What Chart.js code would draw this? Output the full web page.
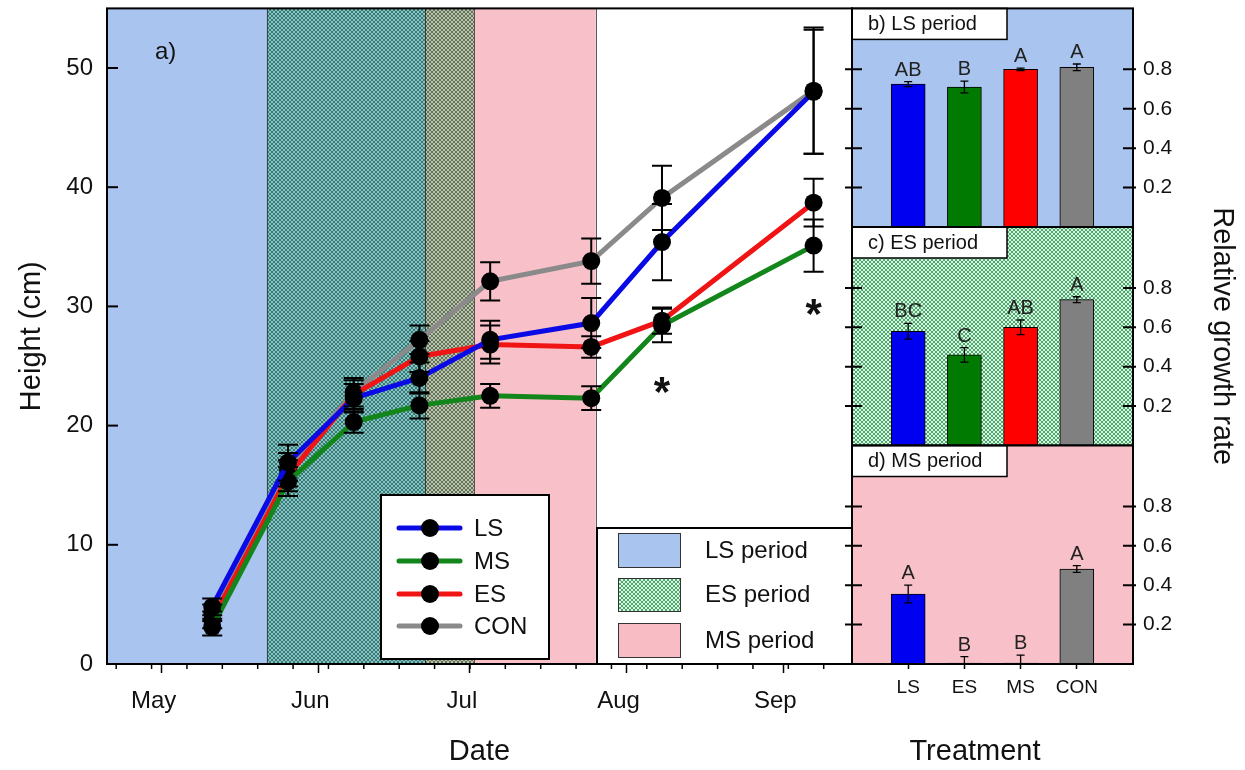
<!DOCTYPE html>
<html><head><meta charset="utf-8">
<script src="https://cdn.jsdelivr.net/npm/chart.js@4.4.1/dist/chart.umd.min.js"></script>
<style>
html,body{margin:0;padding:0;background:#fff;width:1245px;height:770px;overflow:hidden;}
canvas{position:absolute;top:0;}
</style></head><body>
<canvas id="main" width="860" height="770" style="left:0"></canvas>
<canvas id="pb" width="405" height="770" style="left:840px"></canvas>
<canvas id="pc" width="405" height="770" style="left:840px"></canvas>
<canvas id="pd" width="405" height="770" style="left:840px"></canvas>
<script>
// ---------------- data ----------------
const months = ['May','Jun','Jul','Aug','Sep'];
const monthStartDays = [0, 31, 61, 92, 123];            // days since 1 May
const weekTickDays = [-9,-2,5,12,19,26,33,40,47,54,61,68,75,82,89,96,103,110,117,124,131];
const sampleDays = [10, 25, 38, 51, 65, 85, 99, 129];
const heightTicks = [0, 10, 20, 30, 40, 50];
const seriesNames = ['LS', 'MS', 'ES', 'CON'];
const heightLS  = [4.8, 16.9, 22.3, 24.0, 27.2, 28.6, 35.4, 48.0];
const heightMS  = [3.1, 15.3, 20.3, 21.7, 22.5, 22.3, 28.4, 35.1];
const heightES  = [3.7, 15.8, 22.6, 25.8, 26.8, 26.6, 28.8, 38.7];
const heightCON = [4.3, 16.3, 22.8, 27.2, 32.1, 33.8, 39.1, 48.1];
const errLS  = [0.7, 1.5, 1.2, 1.3, 1.6, 2.1, 3.2, 5.2];
const errMS  = [0.7, 1.2, 0.9, 1.1, 1.0, 1.0, 1.4, 2.2];
const errES  = [0.7, 1.3, 1.2, 1.3, 1.6, 0.9, 1.1, 2.0];
const errCON = [0.7, 1.4, 1.2, 1.2, 1.6, 1.9, 2.7, 5.3];
const periodNames = ['LS period', 'ES period', 'MS period'];
const periodStart = [-11, 20.8, 52.1];
const periodEnd   = [52.1, 61.8, 85.9];
const starDays = [99, 129];
const starHeights = [23.6, 30.1];

const treatments = ['LS', 'ES', 'MS', 'CON'];
const rgrTicks = [0.2, 0.4, 0.6, 0.8];
const rgrLSperiod = [0.725, 0.71, 0.80, 0.81];
const errLSperiod = [0.013, 0.03, 0.006, 0.017];
const letLSperiod = ['AB', 'B', 'A', 'A'];
const rgrESperiod = [0.58, 0.46, 0.60, 0.74];
const errESperiod = [0.04, 0.037, 0.037, 0.015];
const letESperiod = ['BC', 'C', 'AB', 'A'];
const rgrMSperiod = [0.355, 0.005, 0.005, 0.482];
const errMSperiod = [0.045, 0.032, 0.04, 0.017];
const letMSperiod = ['A', 'B', 'B', 'A'];

// ---------------- styles ----------------
const FONT = '"Liberation Sans", Arial, sans-serif';
Chart.defaults.font.family = FONT;
Chart.defaults.color = '#111';
const BLUE_BG = '#a9c4ef';
const PINK_BG = '#f8c0c8';
const lineColors = ['#0a0ae6', '#12861a', '#f01414', '#8a8a8a'];
const barColors = ['#0000f0', '#007a00', '#ff0000', '#808080'];
const seriesVals = [heightLS, heightMS, heightES, heightCON];
const seriesErr = [errLS, errMS, errES, errCON];

function hatchPattern(ctx) {
  const c = document.createElement('canvas');
  c.width = 4; c.height = 4;
  const g = c.getContext('2d');
  g.fillStyle = 'rgb(205,252,215)';
  g.fillRect(0, 0, 4, 4);
  g.fillStyle = 'rgb(88,160,120)';
  for (let i = 0; i < 4; i++) { g.fillRect(i, i, 1, 1); g.fillRect(3 - i, i, 1, 1); }
  return ctx.createPattern(c, 'repeat');
}
// hatch multiplied over whatever lies below
function fillHatch(ctx, x, y, w, h) {
  ctx.save();
  ctx.globalCompositeOperation = 'multiply';
  ctx.fillStyle = hatchPattern(ctx);
  ctx.fillRect(x, y, w, h);
  ctx.restore();
}
function noPadV(s) { s.paddingTop = 0; s.paddingBottom = 0; }
function noPadH(s) { s.paddingLeft = 0; s.paddingRight = 0; }

// ---------------- main chart ----------------
const mainDeco = {
  id: 'mainDeco',
  beforeDatasetsDraw(chart) {
    const {ctx, chartArea: a, scales: {x}} = chart;
    ctx.save();
    ctx.beginPath(); ctx.rect(a.left, a.top, a.right - a.left, a.bottom - a.top); ctx.clip();
    [0, 2, 1].forEach(k => {
      const x0 = x.getPixelForValue(periodStart[k]), x1 = x.getPixelForValue(periodEnd[k]);
      if (k === 1) fillHatch(ctx, x0, a.top, x1 - x0, a.bottom - a.top);
      else { ctx.fillStyle = k === 0 ? BLUE_BG : PINK_BG; ctx.fillRect(x0, a.top, x1 - x0, a.bottom - a.top); }
      ctx.strokeStyle = 'rgba(50,50,50,0.8)'; ctx.lineWidth = 1;
      ctx.beginPath(); ctx.moveTo(Math.round(x0) + 0.5, a.top); ctx.lineTo(Math.round(x0) + 0.5, a.bottom);
      ctx.moveTo(Math.round(x1) + 0.5, a.top); ctx.lineTo(Math.round(x1) + 0.5, a.bottom); ctx.stroke();
    });
    ctx.restore();
  },
  afterDatasetsDraw(chart) {
    const {ctx, scales: {x, y}} = chart;
    ctx.save();
    ctx.strokeStyle = '#000'; ctx.lineWidth = 2;
    seriesVals.forEach((vals, s) => {
      vals.forEach((v, i) => {
        const px = x.getPixelForValue(sampleDays[i]);
        const t = y.getPixelForValue(v + seriesErr[s][i]);
        const b = y.getPixelForValue(v - seriesErr[s][i]);
        ctx.beginPath();
        ctx.moveTo(px, t); ctx.lineTo(px, b);
        ctx.moveTo(px - 10, t); ctx.lineTo(px + 10, t);
        ctx.moveTo(px - 10, b); ctx.lineTo(px + 10, b);
        ctx.stroke();
      });
    });
    ctx.restore();
  },
  afterDraw(chart) {
    const {ctx, chartArea: a, scales: {x, y}} = chart;
    ctx.save();
    // stars
    ctx.fillStyle = '#111'; ctx.font = 'bold 42px ' + FONT; ctx.textAlign = 'center'; ctx.textBaseline = 'alphabetic';
    starDays.forEach((d, i) => ctx.fillText('*', x.getPixelForValue(d), y.getPixelForValue(starHeights[i]) + 23));
    // a)
    ctx.font = '24px ' + FONT; ctx.textAlign = 'left'; ctx.textBaseline = 'middle';
    ctx.fillText('a)', a.left + 48, a.top + 44);
    // series legend
    const L = {x0: 381, y0: 495, x1: 549, y1: 659};
    ctx.fillStyle = '#fff'; ctx.fillRect(L.x0, L.y0, L.x1 - L.x0, L.y1 - L.y0);
    ctx.strokeStyle = '#000'; ctx.lineWidth = 2; ctx.strokeRect(L.x0, L.y0, L.x1 - L.x0, L.y1 - L.y0);
    const rows = [528, 561, 594, 626];
    seriesNames.forEach((n, i) => {
      ctx.strokeStyle = lineColors[i]; ctx.lineWidth = 5; ctx.lineCap = 'round';
      ctx.beginPath(); ctx.moveTo(399, rows[i]); ctx.lineTo(460, rows[i]); ctx.stroke();
      ctx.fillStyle = '#000'; ctx.beginPath(); ctx.arc(430, rows[i], 9, 0, Math.PI * 2); ctx.fill();
      ctx.fillStyle = '#111'; ctx.font = '24px ' + FONT; ctx.textBaseline = 'middle';
      ctx.fillText(n, 474, rows[i] + 1);
    });
    ctx.lineCap = 'butt';
    // period legend
    const P = {x0: 597, y0: 528, x1: a.right, y1: a.bottom};
    ctx.fillStyle = '#fff'; ctx.fillRect(P.x0, P.y0, P.x1 - P.x0, P.y1 - P.y0);
    ctx.strokeStyle = '#000'; ctx.lineWidth = 2; ctx.strokeRect(P.x0, P.y0, P.x1 - P.x0, P.y1 - P.y0);
    const sw = [[533, 567], [578, 611], [623, 657]];
    periodNames.forEach((n, i) => {
      const h = sw[i][1] - sw[i][0];
      if (i === 1) { ctx.fillStyle = '#fff'; ctx.fillRect(618, sw[i][0], 62, h); fillHatch(ctx, 618, sw[i][0], 62, h); }
      else { ctx.fillStyle = i === 0 ? BLUE_BG : '#f8bcc4'; ctx.fillRect(618, sw[i][0], 62, h); }
      ctx.strokeStyle = '#333'; ctx.lineWidth = 1; ctx.strokeRect(618.5, sw[i][0] + 0.5, 62, h);
      ctx.fillStyle = '#111'; ctx.font = '24px ' + FONT; ctx.textBaseline = 'middle';
      ctx.fillText(n, 705, (sw[i][0] + sw[i][1]) / 2 + 1);
    });
    // frame
    ctx.strokeStyle = '#000'; ctx.lineWidth = 2;
    ctx.strokeRect(a.left, a.top, a.right - a.left, a.bottom - a.top);
    // inward y ticks
    heightTicks.forEach(t => {
      const py = y.getPixelForValue(t);
      ctx.beginPath(); ctx.moveTo(a.left, py); ctx.lineTo(a.left + 11, py); ctx.stroke();
    });
    // minor weekly ticks
    ctx.lineWidth = 1.5;
    weekTickDays.forEach(d => {
      const px = x.getPixelForValue(d);
      if (px < a.left || px > a.right) return;
      ctx.beginPath(); ctx.moveTo(px, a.bottom); ctx.lineTo(px, a.bottom + 5); ctx.stroke();
    });
    ctx.restore();
  }
};

new Chart(document.getElementById('main'), {
  type: 'line',
  data: {
    datasets: seriesNames.map((n, s) => ({
      label: n,
      data: sampleDays.map((d, i) => ({x: d, y: seriesVals[s][i]})),
      borderColor: lineColors[s], borderWidth: 5, tension: 0, fill: false,
      pointRadius: 9, pointBackgroundColor: '#000', pointBorderColor: '#000', pointBorderWidth: 0
    }))
  },
  options: {
    responsive: false, animation: false, events: [],
    layout: {padding: {left: 0, right: 8, top: 8.4, bottom: 0}, autoPadding: false},
    plugins: {legend: {display: false}, tooltip: {enabled: false}},
    scales: {
      x: {
        type: 'linear', min: -10.82, max: 136.6,
        afterBuildTicks: s => { s.ticks = monthStartDays.map(v => ({value: v})); },
        ticks: {callback: (v, i) => months[i], font: {size: 24}, color: '#111', padding: 14, labelOffset: -8, maxRotation: 0, autoSkip: false},
        grid: {drawOnChartArea: false, drawTicks: true, tickLength: 9, tickWidth: 1.5, tickColor: '#000'},
        border: {display: false},
        title: {display: true, text: 'Date', font: {size: 29}, color: '#111', padding: {top: 0, bottom: 1}},
        afterFit: s => { s.height = 106; noPadH(s); }
      },
      y: {
        min: 0, max: 55,
        afterBuildTicks: s => { s.ticks = heightTicks.map(v => ({value: v})); },
        ticks: {font: {size: 24}, color: '#111', padding: 14},
        grid: {display: false, drawTicks: false},
        border: {display: false},
        title: {display: true, text: 'Height (cm)', font: {size: 29}, color: '#111', padding: {top: 15, bottom: 0}},
        afterFit: s => { s.width = 107; noPadV(s); }
      }
    }
  },
  plugins: [mainDeco]
});

// ---------------- panels ----------------
function makePanel(id, vals, errs, letters, title, bgKind, padTop, padBottom, showX, yTitle) {
  const deco = {
    id: 'panelDeco' + id,
    beforeDatasetsDraw(chart) {
      const {ctx, chartArea: a} = chart;
      ctx.save();
      if (bgKind === 'hatch') {
        ctx.fillStyle = '#fff'; ctx.fillRect(a.left, a.top, a.right - a.left, a.bottom - a.top);
        fillHatch(ctx, a.left, a.top, a.right - a.left, a.bottom - a.top);
      } else { ctx.fillStyle = bgKind; ctx.fillRect(a.left, a.top, a.right - a.left, a.bottom - a.top); }
      ctx.restore();
    },
    afterDatasetsDraw(chart) {
      const {ctx, scales: {x, y}} = chart;
      ctx.save();
      ctx.strokeStyle = '#000'; ctx.lineWidth = 1.3;
      ctx.fillStyle = '#222'; ctx.font = '20px ' + FONT; ctx.textAlign = 'center'; ctx.textBaseline = 'alphabetic';
      vals.forEach((v, i) => {
        const px = x.getPixelForValue(i + 1);
        const t = y.getPixelForValue(v + errs[i]);
        const b = y.getPixelForValue(Math.max(0, v - errs[i]));
        ctx.beginPath();
        ctx.moveTo(px, t); ctx.lineTo(px, b);
        ctx.moveTo(px - 4, t); ctx.lineTo(px + 4, t);
        ctx.moveTo(px - 4, b); ctx.lineTo(px + 4, b);
        ctx.stroke();
        ctx.fillText(letters[i], px, t - 6);
      });
      ctx.restore();
    },
    afterDraw(chart) {
      const {ctx, chartArea: a, scales: {y}} = chart;
      ctx.save();
      // title box
      ctx.fillStyle = '#fff'; ctx.fillRect(a.left, a.top, 155, 31);
      ctx.strokeStyle = '#000'; ctx.lineWidth = 1.5; ctx.strokeRect(a.left, a.top, 155, 31);
      ctx.fillStyle = '#111'; ctx.font = '20px ' + FONT; ctx.textAlign = 'left'; ctx.textBaseline = 'middle';
      ctx.fillText(title, a.left + 16, a.top + 16);
      // frame
      ctx.lineWidth = 2; ctx.strokeRect(a.left, a.top, a.right - a.left, a.bottom - a.top);
      // ticks both sides
      rgrTicks.forEach(t => {
        const py = y.getPixelForValue(t);
        ctx.beginPath();
        ctx.moveTo(a.right - 10, py); ctx.lineTo(a.right + 3, py);
        ctx.moveTo(a.left - 7, py); ctx.lineTo(a.left + 10, py);
        ctx.stroke();
      });
      if (showX) {
        ctx.font = '29px ' + FONT; ctx.textAlign = 'center'; ctx.textBaseline = 'middle';
        ctx.fillText('Treatment', 975 - 840, 752);
      }
      ctx.restore();
    }
  };
  return new Chart(document.getElementById(id), {
    type: 'bar',
    data: {datasets: [{
      data: vals.map((v, i) => ({x: i + 1, y: v})),
      backgroundColor: barColors, borderColor: '#000', borderWidth: 1, barThickness: 34, borderSkipped: false
    }]},
    options: {
      responsive: false, animation: false, events: [],
      layout: {padding: {left: 12, right: 0, top: padTop, bottom: padBottom}, autoPadding: false},
      plugins: {legend: {display: false}, tooltip: {enabled: false}},
      scales: {
        x: {
          type: 'linear', min: 0, max: 5, offset: false, display: showX,
          afterBuildTicks: s => { s.ticks = treatments.map((t, i) => ({value: i + 1})); },
          ticks: {callback: (v, i) => treatments[i], font: {size: 19}, color: '#111', padding: 7, maxRotation: 0, autoSkip: false},
          grid: {drawOnChartArea: false, drawTicks: true, tickLength: 5, tickWidth: 1.5, tickColor: '#000', offset: false},
          border: {display: false},
          afterFit: s => { s.height = showX ? 106 : 0; noPadH(s); }
        },
        y: {
          position: 'right', min: 0, max: 1.109,
          afterBuildTicks: s => { s.ticks = rgrTicks.map(v => ({value: v})); },
          ticks: {font: {size: 21}, color: '#111', padding: 10, callback: v => v.toFixed(1)},
          grid: {display: false, drawTicks: false},
          border: {display: false},
          title: {display: !!yTitle, text: yTitle || '', font: {size: 29}, color: '#111', padding: {top: 5.6, bottom: 0}},
          afterFit: s => { s.width = 112; noPadV(s); }
        }
      }
    },
    plugins: [deco]
  });
}

makePanel('pb', rgrLSperiod, errLSperiod, letLSperiod, 'b) LS period', BLUE_BG, 8.4, 543, false, null);
makePanel('pc', rgrESperiod, errESperiod, letESperiod, 'c) ES period', 'hatch', 227, 324.5, false, 'Relative growth rate');
makePanel('pd', rgrMSperiod, errMSperiod, letMSperiod, 'd) MS period', PINK_BG, 445.5, 0, true, null);
</script>
</body></html>
